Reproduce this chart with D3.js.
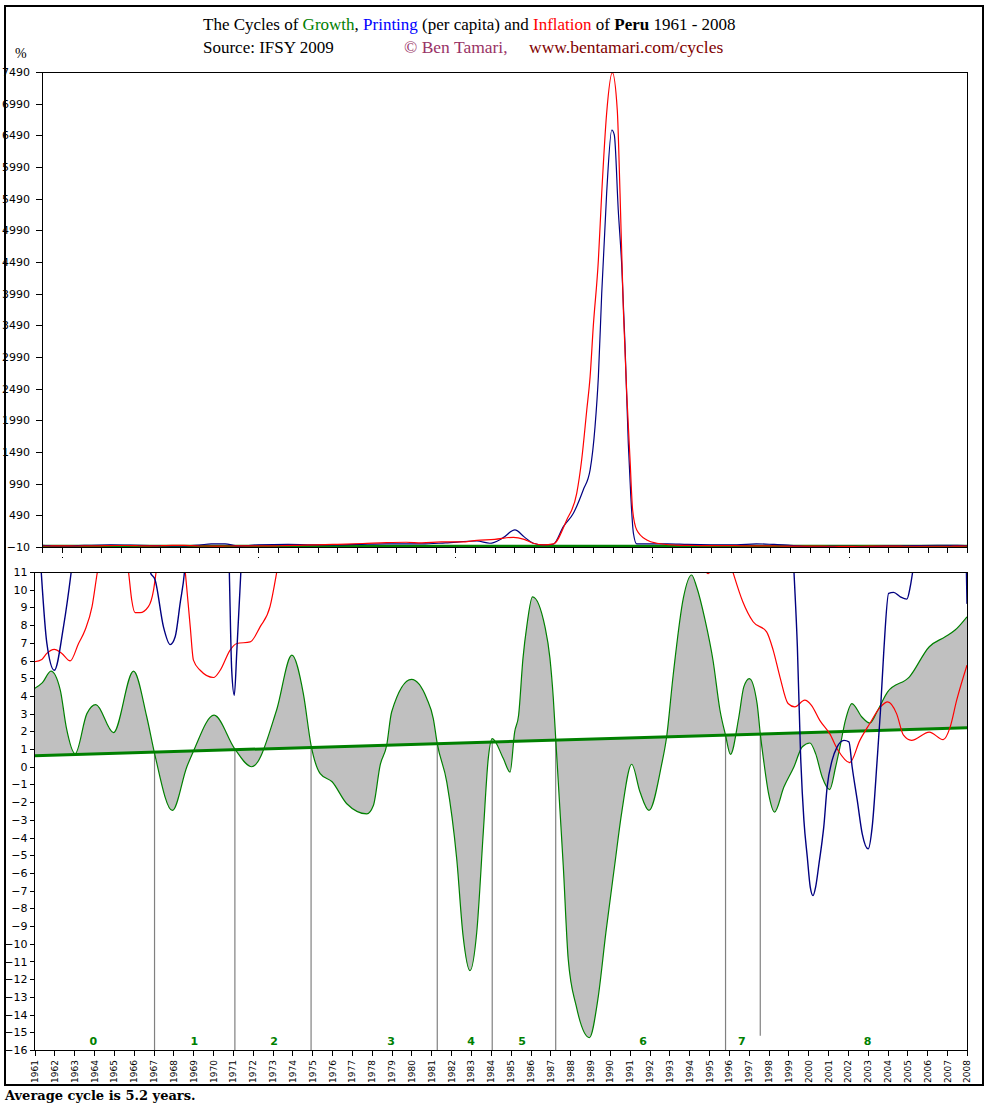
<!DOCTYPE html>
<html>
<head>
<meta charset="utf-8">
<script src="https://d3js.org/d3.v7.min.js"></script>
<style>
body { margin: 0; background: #fff; }
</style>
</head>
<body>
<svg id="chart" width="1000" height="1110"></svg>
<script>

// Growth (GDP per capita growth, %)
var growthYears = [
    1961, 1961.4, 1961.83, 1962.3, 1962.6, 1963.05, 1963.64, 1964.09, 1964.98, 1965.99,
    1966.66, 1967.05, 1967.95, 1968.68, 1969.0, 1970.05, 1971.1, 1971.95, 1973.2, 1973.97,
    1974.55, 1974.94, 1975.4, 1976.0, 1976.74, 1977.75, 1978.08, 1978.42, 1978.75, 1979.0,
    1980.0, 1980.77, 1981.1, 1981.3, 1981.78, 1982.28, 1982.6, 1982.95, 1983.29, 1983.62,
    1983.87, 1984.07, 1984.63, 1984.97, 1985.2, 1985.4, 1985.62, 1985.82, 1986.1, 1986.73,
    1986.98, 1987.15, 1987.27, 1987.48, 1987.65, 1987.9, 1988.3, 1988.97, 1989.4, 1989.8,
    1990.24, 1990.6, 1991.1, 1991.52, 1991.97, 1992.6, 1992.86, 1993.19, 1993.7, 1994.12,
    1994.37, 1994.8, 1995.2, 1995.55, 1995.83, 1996.08, 1996.5, 1996.75, 1997.03, 1997.42,
    1997.58, 1997.75, 1998.0, 1998.3, 1998.77, 1999.28, 1999.7, 2000.08, 2000.37, 2000.7,
    2001.08, 2001.38, 2001.6, 2001.87, 2002.2, 2002.7, 2003.1, 2003.5, 2004.0, 2005.1,
    2006.1, 2006.9, 2007.4, 2008.0
];
var growthValues = [
    4.42, 4.75, 5.4, 4.33, 2.24, 0.74, 3.0, 3.51, 1.93, 5.4,
    2.81, 0.76, -2.47, 0, 0.85, 2.91, 1.0, 0.0, 3.19, 6.3,
    4.13, 1.21, -0.39, -0.85, -2.09, -2.66, -2.19, 0.08, 1.21, 3.09,
    4.93, 3.85, 2.72, 1.3, -0.87, -5.2, -9.54, -11.52, -9.35, -3.7,
    0.46, 1.59, 0.46, -0.3, 1.96, 2.91, 6.12, 8.0, 9.6, 7.9,
    6.12, 3.85, 1.59, -2.37, -5.58, -10.86, -13.5, -15.3, -13.1, -9.36,
    -5.58, -2.56, 0.14, -1.43, -2.47, 0.08, 1.68, 5.17, 9.51, 10.83,
    10.17, 8.28, 6.0, 3.19, 1.78, 0.70, 2.81, 4.51, 4.98, 3.57,
    1.87, 0.36, -1.52, -2.56, -1.15, 0, 1.13, 1.34, 0.74, -0.58,
    -1.29, 0, 1.13, 2.62, 3.57, 2.81, 2.47, 3.19, 4.23, 5.08,
    6.78, 7.34, 7.72, 8.47
];

// Printing (money growth per capita, %)
var printYears = [
    1961, 1961.34, 1961.62, 1962.0, 1962.46, 1962.85, 1963.5, 1964.5, 1965.5, 1966.5,
    1966.83, 1967.08, 1967.5, 1967.84, 1968.09, 1968.34, 1968.56, 1969.0, 1969.6, 1970.3,
    1970.82, 1970.94, 1971.07, 1971.2, 1971.4, 1972.0, 1973.5, 1974.5, 1975.5, 1977.0,
    1978.5, 1980.3, 1981.5, 1983.1, 1983.76, 1984.4, 1985.03, 1985.5, 1985.96, 1986.47,
    1986.98, 1987.49, 1988.0, 1988.5, 1988.85, 1989.1, 1989.27, 1989.44, 1989.69, 1989.95,
    1990.08, 1990.28, 1990.46, 1990.62, 1990.79, 1990.91, 1991.05, 1991.22, 1991.73, 1992.8,
    1993.8, 1995.0, 1996.3, 1997.3, 1998.2, 1998.9, 1999.28, 1999.45, 1999.61, 1999.78,
    1999.95, 2000.1, 2000.24, 2000.37, 2000.54, 2000.7, 2000.78, 2000.95, 2001.2, 2001.45,
    2001.8, 2002.05, 2002.21, 2002.47, 2002.72, 2003.02, 2003.22, 2003.47, 2003.64, 2003.8,
    2004.05, 2004.3, 2004.64, 2004.97, 2005.14, 2005.26, 2005.6, 2006.5, 2007.5, 2007.9,
    2008.0
];
var printValues = [
    18, 11, 7, 5.45, 7.9, 11, 18, 22, 20, 14,
    11, 10.55, 7.9, 6.9, 7.34, 9.23, 11, 20, 40, 40,
    11, 5.45, 4.04, 6.59, 11, 25, 30, 25, 22, 30,
    40, 38, 55, 85, 49, 130, 259, 150, 49, 22,
    33, 311, 523, 891, 1207, 1890, 2680, 3996, 5575, 6574,
    6495, 5311, 4416, 3207, 1628, 838, 207, 38, 40, 40,
    30, 25, 25, 40, 30, 20, 11, 6.78, 0.74, -3.03,
    -5.1, -6.8, -7.28, -6.8, -5.48, -4.17, -3.41, -1.15, 0.36, 1.11,
    1.49, 1.4, 0, -1.9, -3.79, -4.64, -3.41, 0.36, 3.19, 6.4,
    9.79, 9.85, 9.6, 9.47, 10.17, 11, 14, 18, 17, 14,
    9.2
];

// Inflation (%)
var inflYears = [
    1961, 1961.37, 1961.62, 1962.0, 1962.38, 1962.8, 1963.22, 1963.55, 1963.9, 1964.17,
    1964.8, 1965.3, 1965.74, 1965.9, 1966.07, 1966.32, 1966.74, 1967.0, 1967.13, 1967.6,
    1968.2, 1968.6, 1968.85, 1969.01, 1969.35, 1970.02, 1970.36, 1970.86, 1971.2, 1971.87,
    1972.37, 1972.87, 1973.21, 1974.0, 1975.0, 1976.0, 1977.3, 1978.5, 1979.5, 1980.3,
    1981.3, 1982.3, 1983.1, 1984.0, 1984.95, 1985.5, 1985.96, 1986.47, 1986.98, 1987.66,
    1988.17, 1988.42, 1988.68, 1988.85, 1989.01, 1989.27, 1989.44, 1989.69, 1989.98, 1990.23,
    1990.37, 1990.54, 1990.71, 1990.88, 1991.01, 1991.22, 1991.73, 1992.24, 1993.42, 1994.2,
    1994.95, 1995.4, 1995.8, 1996.2, 1996.7, 1997.22, 1997.9, 1998.23, 1998.57, 1998.98,
    1999.32, 1999.82, 2000.16, 2000.58, 2001.08, 2001.5, 2002.09, 2002.6, 2003.1, 2003.64,
    2004.0, 2004.45, 2004.8, 2005.2, 2006.1, 2006.8, 2007.15, 2007.48, 2008.0
];
var inflValues = [
    5.93, 6.06, 6.4, 6.63, 6.4, 5.98, 6.96, 7.72, 9.04, 11,
    14, 14, 11, 9.42, 8.7, 8.7, 9.04, 9.98, 11, 15,
    15, 11, 7.9, 6.02, 5.45, 5.04, 5.45, 6.59, 6.96, 7.05,
    7.9, 9.04, 11, 17, 23, 33, 45, 60, 65, 55,
    70, 70, 95, 110, 143, 110, 49, 22, 38, 417,
    838, 1364, 2154, 2680, 3469, 4522, 5575, 6838, 7479, 6890,
    5575, 3733, 2417, 1364, 575, 259, 101, 49, 15, 14,
    10.9, 12, 12.5, 11, 9.32, 8.19, 7.62, 6.59, 5.08, 3.57,
    3.38, 3.76, 3.47, 2.62, 1.87, 0.93, 0.23, 1.49, 2.44, 3.38,
    3.66, 3.0, 1.78, 1.49, 1.96, 1.53, 2.24, 3.76, 5.74
];

// linear growth trend
var trendYears = [1961, 2008];
var trendValues = [0.62, 2.2];

// cycle boundaries (years) and how far down each line goes
var cycleYears = [1967.05, 1971.1, 1974.94, 1981.3, 1984.07, 1987.27, 1995.83, 1997.58];
var cycleBottoms = [-16, -16, -16, -16, -16, -16, -16, -15.2];
var cycleLabels = ["0", "1", "2", "3", "4", "5", "6", "7", "8"];
var cycleLabelYears = [1963.96, 1969.05, 1973.07, 1978.97, 1983.0, 1985.57, 1991.67, 1996.65, 2002.99];

var years = d3.range(1961, 2009);
var topTicks = d3.range(-10, 7491, 500);
var botTicks = d3.range(-16, 12);
var dotYears = [1962, 1972, 1982, 1992, 2002];

var growth = growthYears.map(function(y, i) { return {year: y, v: growthValues[i]}; });
var printing = printYears.map(function(y, i) { return {year: y, v: printValues[i]}; });
var inflation = inflYears.map(function(y, i) { return {year: y, v: inflValues[i]}; });

var trend = d3.scaleLinear().domain(trendYears).range(trendValues);

var svg = d3.select("#chart");
var fontSans = "'DejaVu Sans', Verdana, sans-serif";
var fontSerif = "'Liberation Serif', 'Times New Roman', serif";

svg.append("rect").attr("width", 1000).attr("height", 1110).attr("fill", "#fff");

// outer frame
svg.append("rect")
    .attr("x", 5).attr("y", 6)
    .attr("width", 978).attr("height", 1079)
    .attr("fill", "none").attr("stroke", "#000").attr("stroke-width", 2);

// ---- titles
var title = svg.append("text")
    .attr("x", 203).attr("y", 30)
    .attr("font-family", fontSerif).attr("font-size", "17px").attr("fill", "#000");
title.append("tspan").text("The Cycles of ");
title.append("tspan").attr("fill", "#008000").text("Growth");
title.append("tspan").text(", ");
title.append("tspan").attr("fill", "#0000ff").text("Printing");
title.append("tspan").text(" (per capita) and ");
title.append("tspan").attr("fill", "#ff0000").text("Inflation");
title.append("tspan").text(" of ");
title.append("tspan").attr("font-weight", "bold").text("Peru");
title.append("tspan").text(" 1961 - 2008");

svg.append("text").attr("x", 203).attr("y", 53)
    .attr("font-family", fontSerif).attr("font-size", "17px").attr("fill", "#000")
    .text("Source: IFSY 2009");
svg.append("text").attr("x", 404).attr("y", 53)
    .attr("font-family", fontSerif).attr("font-size", "17.5px").attr("fill", "#993366")
    .text("\u00a9 Ben Tamari,");
svg.append("text").attr("x", 529).attr("y", 53)
    .attr("font-family", fontSerif).attr("font-size", "17.5px").attr("fill", "#800000")
    .text("www.bentamari.com/cycles");
svg.append("text").attr("x", 15).attr("y", 58)
    .attr("font-family", fontSerif).attr("font-size", "14px").attr("fill", "#000")
    .text("%");

// ---- scales
var xTop = d3.scaleLinear().domain([1961, 2008]).range([42, 967]);
var yTop = d3.scaleLinear().domain([-10, 7490]).range([547, 72]);
var xBot = d3.scaleLinear().domain([1961, 2008]).range([34.5, 967]);
var yBot = d3.scaleLinear().domain([-16, 11]).range([1050, 572]);

var defs = svg.append("defs");
defs.append("clipPath").attr("id", "clipTop").append("rect")
    .attr("x", 42).attr("y", 72).attr("width", 925).attr("height", 475);
defs.append("clipPath").attr("id", "clipBot").append("rect")
    .attr("x", 34.5).attr("y", 572).attr("width", 932.5).attr("height", 478);

function styleAxis(g, size) {
    g.select(".domain").remove();
    g.attr("font-family", fontSans).attr("font-size", size);
    g.selectAll("line").attr("stroke", "#000");
    g.selectAll("text").attr("fill", "#000");
}

// ---- top chart
var topG = svg.append("g").attr("clip-path", "url(#clipTop)");

function lineTop(data) {
    return d3.line().x(function(d) { return xTop(d.year); })
        .y(function(d) { return yTop(d.v); })
        .curve(d3.curveMonotoneX)(data);
}

topG.append("path")
    .attr("d", d3.line().x(function(d) { return xTop(d); }).y(function(d) { return yTop(trend(d)); })(trendYears))
    .attr("fill", "none").attr("stroke", "#008000").attr("stroke-width", 3);
topG.append("path").attr("d", lineTop(growth))
    .attr("fill", "none").attr("stroke", "#008000").attr("stroke-width", 1);
topG.append("path").attr("d", lineTop(printing))
    .attr("fill", "none").attr("stroke", "#000080").attr("stroke-width", 1.2);
topG.append("path").attr("d", lineTop(inflation))
    .attr("fill", "none").attr("stroke", "#ff0000").attr("stroke-width", 1.2);

svg.append("rect")
    .attr("x", 42).attr("y", 72).attr("width", 925).attr("height", 475)
    .attr("fill", "none").attr("stroke", "#000").attr("stroke-width", 1)
    .attr("shape-rendering", "crispEdges");

svg.append("g").attr("transform", "translate(42,0)")
    .call(d3.axisLeft(yTop).tickValues(topTicks).tickSize(6).tickPadding(6).tickFormat(d3.format("d")))
    .call(styleAxis, 11)
    .attr("shape-rendering", "crispEdges");

svg.append("g").attr("transform", "translate(0,547)")
    .call(d3.axisBottom(xTop).tickValues(years).tickSize(6).tickFormat(""))
    .call(styleAxis, 9)
    .attr("shape-rendering", "crispEdges");

svg.selectAll(".topdot")
    .data(dotYears)
    .enter()
    .append("rect")
    .attr("x", function(d) { return Math.round(xTop(d)); })
    .attr("y", 557).attr("width", 1).attr("height", 1)
    .attr("fill", "#000");

// ---- bottom chart
var botG = svg.append("g").attr("clip-path", "url(#clipBot)");

botG.append("path")
    .attr("d", d3.area()
        .x(function(d) { return xBot(d.year); })
        .y0(function(d) { return yBot(trend(d.year)); })
        .y1(function(d) { return yBot(d.v); })
        .curve(d3.curveMonotoneX)(growth))
    .attr("fill", "#c0c0c0");

botG.selectAll(".cycle")
    .data(cycleYears)
    .enter()
    .append("line")
    .attr("x1", function(d) { return xBot(d); })
    .attr("x2", function(d) { return xBot(d); })
    .attr("y1", function(d) { return yBot(trend(d)); })
    .attr("y2", function(d, i) { return yBot(cycleBottoms[i]); })
    .attr("stroke", "#808080").attr("stroke-width", 1.2);

botG.append("path")
    .attr("d", d3.line().x(function(d) { return xBot(d); }).y(function(d) { return yBot(trend(d)); })(trendYears))
    .attr("fill", "none").attr("stroke", "#008000").attr("stroke-width", 3);

function lineBot(data) {
    return d3.line().x(function(d) { return xBot(d.year); })
        .y(function(d) { return yBot(d.v); })
        .curve(d3.curveMonotoneX)(data);
}

botG.append("path").attr("d", lineBot(growth))
    .attr("fill", "none").attr("stroke", "#008000").attr("stroke-width", 1.2);
botG.append("path").attr("d", lineBot(inflation))
    .attr("fill", "none").attr("stroke", "#ff0000").attr("stroke-width", 1.2);
botG.append("path").attr("d", lineBot(printing))
    .attr("fill", "none").attr("stroke", "#000080").attr("stroke-width", 1.4);

svg.selectAll(".cyclelabel")
    .data(cycleLabels)
    .enter()
    .append("text")
    .attr("x", function(d, i) { return xBot(cycleLabelYears[i]); })
    .attr("y", yBot(-15.7))
    .attr("text-anchor", "middle")
    .attr("font-family", fontSans).attr("font-size", "11px").attr("font-weight", "bold")
    .attr("fill", "#008000")
    .text(function(d) { return d; });

svg.append("rect")
    .attr("x", 34.5).attr("y", 572).attr("width", 932.5).attr("height", 478)
    .attr("fill", "none").attr("stroke", "#000").attr("stroke-width", 1)
    .attr("shape-rendering", "crispEdges");

svg.append("g").attr("transform", "translate(34.5,0)")
    .call(d3.axisLeft(yBot).tickValues(botTicks).tickSize(5).tickPadding(2).tickFormat(d3.format("d")))
    .call(styleAxis, 11)
    .attr("shape-rendering", "crispEdges");

var xAxisBot = svg.append("g").attr("transform", "translate(0,1050)")
    .call(d3.axisBottom(xBot).tickValues(years).tickSize(6).tickFormat(d3.format("d")))
    .call(styleAxis, 9)
    .attr("shape-rendering", "crispEdges");

xAxisBot.selectAll("text")
    .attr("transform", "rotate(-90)")
    .attr("x", -10).attr("y", 0).attr("dy", "0.33em")
    .style("text-anchor", "end");

// footer
svg.append("text").attr("x", 5).attr("y", 1100)
    .attr("font-family", "'DejaVu Serif', serif").attr("font-size", "13px").attr("font-weight", "bold")
    .attr("fill", "#000")
    .text("Average cycle is 5.2 years.");

</script>
</body>
</html>
